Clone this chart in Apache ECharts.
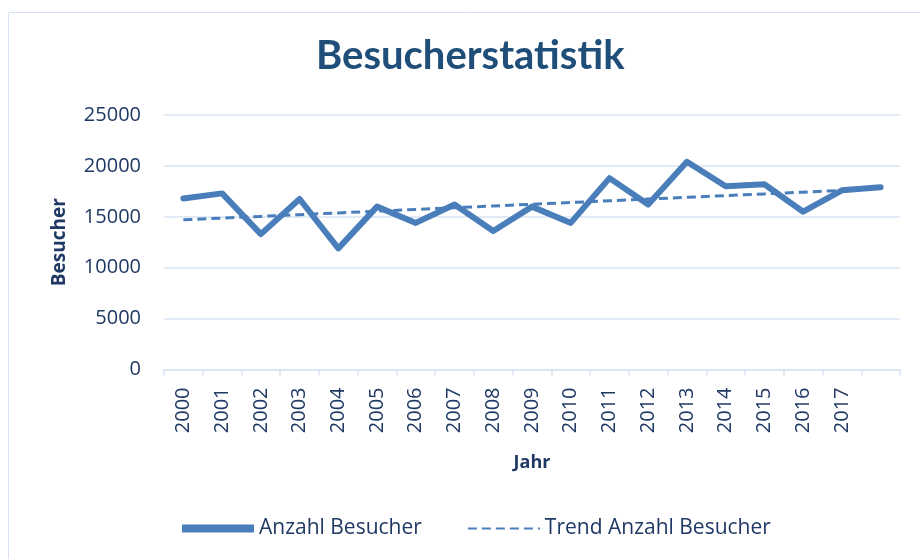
<!DOCTYPE html>
<html>
<head>
<meta charset="utf-8">
<script src="https://cdn.jsdelivr.net/npm/echarts@6/dist/echarts.min.js"></script>
<style>
html,body{margin:0;padding:0;background:#fff;}
#chart{width:920px;height:559px;}
</style>
</head>
<body>
<div id="chart"></div>
<script>
// Data
const categories = ["2000","2001","2002","2003","2004","2005","2006","2007","2008","2009","2010","2011","2012","2013","2014","2015","2016","2017",""];
const besucher = [16800,17300,13300,16750,11900,16000,14400,16200,13600,16000,14400,18800,16200,20400,18000,18200,15500,17600,17900];
const trend = [14700,14870,15040,15210,15380,15550,15720,15890,16060,16230,16400,16570,16740,16910,17080,17250,17420,17590,null];
const yTicks = [0,5000,10000,15000,20000,25000];

const labelColor = '#1f3864';
const lineColor = '#4a7ebb';
const gridColor = '#d9e3f2';
const font = 'Open Sans';

const chart = echarts.init(document.getElementById('chart'), null, {renderer:'canvas'});
chart.setOption({
  animation:false,
  backgroundColor:'#fff',
  graphic:[{
    type:'rect', left:6, top:10, shape:{width:940,height:560},
    style:{fill:'none', stroke:'#d6e1f1', lineWidth:1}, silent:true, z:-1
  }],
  title:{
    text:'Besucherstatistik', left:311, top:31,
    textStyle:{fontFamily:'Lato', fontWeight:'bold', fontSize:40, color:'#1f4e79'}
  },
  legend:{
    bottom:15, left:177, itemGap:45, itemWidth:72, itemHeight:8,
    textStyle:{fontFamily:font, fontSize:21, color:labelColor},
    data:[
      {name:'Anzahl Besucher', icon:'path://M0,0 L72,0 L72,8 L0,8 Z'},
      {name:'Trend Anzahl Besucher', itemStyle:{color:'rgba(0,0,0,0)', borderWidth:0, opacity:0}}
    ]
  },
  grid:{left:164, right:20, top:115, bottom:189.5, containLabel:false},
  xAxis:{
    type:'category', data:categories, boundaryGap:true,
    name:'Jahr', nameLocation:'middle', nameGap:84,
    nameTextStyle:{fontFamily:font, fontWeight:'bold', fontSize:18, color:'#1f3864'},
    axisLine:{lineStyle:{color:gridColor, width:1.5}},
    axisTick:{show:true, length:6, lineStyle:{color:gridColor, width:1.5}},
    axisLabel:{rotate:90, interval:0, margin:18, fontFamily:font, fontSize:20, color:labelColor}
  },
  yAxis:{
    type:'value', min:0, max:25000, interval:5000,
    name:'Besucher', nameLocation:'middle', nameGap:95, nameRotate:90,
    nameTextStyle:{fontFamily:font, fontWeight:'bold', fontSize:19, color:'#1f3864'},
    axisLine:{show:false}, axisTick:{show:false},
    splitLine:{lineStyle:{color:gridColor, width:1.5}},
    axisLabel:{margin:23, fontFamily:font, fontSize:20, color:labelColor,
      formatter:function(v){return yTicks.indexOf(v)>=0 ? String(v) : '';}}
  },
  series:[
    {name:'Anzahl Besucher', type:'line', data:besucher, symbol:'none',
     lineStyle:{color:lineColor, width:6, cap:'round', join:'round'},
     itemStyle:{color:lineColor}, z:3},
    {name:'Trend Anzahl Besucher', type:'line', data:trend, symbol:'none',
     lineStyle:{color:lineColor, width:3, type:[9,5]},
     itemStyle:{color:lineColor}, z:2}
  ]
});
</script>
</body>
</html>
